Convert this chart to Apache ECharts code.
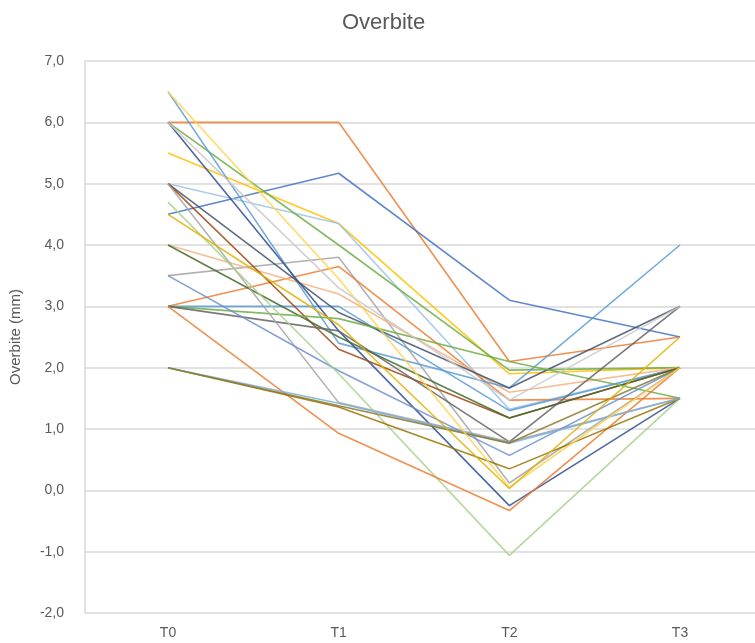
<!DOCTYPE html>
<html>
<head>
<meta charset="utf-8">
<script src="https://cdn.jsdelivr.net/npm/echarts@6/dist/echarts.min.js"></script>
<style>html,body{margin:0;padding:0;background:#fff;}#c{width:755px;height:643px;}</style>
</head>
<body>
<div id="c"></div>
<script>
const categories = ['T0', 'T1', 'T2', 'T3'];
const yTicks = [-2, -1, 0, 1, 2, 3, 4, 5, 6, 7];

const s01 = [6.0, 6.0, 2.1, 2.5];
const s02 = [4.5, 5.17, 3.1, 2.5];
const s03 = [5.5, 4.35, 1.9, 2.0];
const s04 = [5.0, 4.35, 1.32, 2.0];
const s05 = [6.0, 4.0, 1.96, 2.0];
const s06 = [3.5, 3.8, 0.12, 2.0];
const s07 = [3.0, 3.65, 1.47, 1.5];
const s08 = [4.0, 3.2, 1.6, 2.0];
const s09 = [3.0, 3.0, 1.3, 2.0];
const s10 = [6.5, 2.4, 1.67, 4.0];
const s11 = [6.0, 2.6, -0.25, 1.5];
const s12 = [5.0, 2.9, 1.67, 3.0];
const s13 = [5.0, 2.3, 1.18, 2.0];
const s14 = [4.0, 2.5, 1.18, 2.0];
const s15 = [3.0, 2.8, 2.1, 1.5];
const s16 = [3.0, 2.6, 0.79, 3.0];
const s17 = [5.0, 1.43, 0.79, 1.5];
const s18 = [3.5, 1.95, 0.57, 2.0];
const s19 = [4.7, 1.9, -1.06, 1.5];
const s20 = [3.0, 0.93, -0.33, 2.0];
const s21 = [2.0, 1.36, 0.35, 1.5];
const s22 = [2.0, 1.42, 0.77, 1.5];
const s23 = [2.0, 1.38, 0.77, 2.0];
const s24 = [6.5, 3.45, 0.05, 2.0];
const s25 = [4.5, 2.7, 0.03, 2.5];
const s26 = [6.0, 3.3, 1.47, 3.0];

const seriesData = [s01,s02,s03,s04,s05,s06,s07,s08,s09,s10,s11,s12,s13,s14,s15,s16,s17,s18,s19,s20,s21,s22,s23,s24,s25,s26];
const colors = ['#ED7D31','#4472C4','#FFC000','#9DC3E6','#70AD47','#A5A5A5','#ED7D31','#F4B183','#5B9BD5','#5B9BD5',
                '#2F4F8F','#44546A','#9E480E','#43682B','#70AD47','#636363','#A5A5A5','#6F8FD0','#A9D18E','#ED7D31',
                '#997300','#7CAFDD','#8B7A2A','#FFD34D','#E0B000','#C9C9C9'];

const chart = echarts.init(document.getElementById('c'));
const fontFam = '"Liberation Sans", "DejaVu Sans", sans-serif';
const yMin = yTicks[0], yMax = yTicks[yTicks.length - 1];
chart.setOption({
  animation: false,
  backgroundColor: '#ffffff',
  title: {
    text: 'Overbite', left: 337, top: 7,
    textStyle: { fontFamily: fontFam, fontSize: 22, fontWeight: 'normal', color: '#595959' }
  },
  grid: [
    { left: 83, right: 0, top: 61, height: 552 },
    { left: 168, width: 512, top: 61, height: 552 }
  ],
  xAxis: [
    { gridIndex: 0, type: 'value', min: 0, max: 1, show: false },
    {
      gridIndex: 1, type: 'category', data: categories, boundaryGap: false,
      axisLine: { show: false }, axisTick: { show: false },
      axisLabel: { fontFamily: fontFam, fontSize: 14, color: '#595959', margin: 13 },
      splitLine: { show: false }
    }
  ],
  yAxis: [
    {
      gridIndex: 0, type: 'value', min: yMin, max: yMax, interval: 1,
      name: 'Overbite (mm)', nameLocation: 'middle', nameGap: 62, nameRotate: 90,
      nameTextStyle: { fontFamily: fontFam, fontSize: 15, color: '#595959' },
      axisLine: { show: true, lineStyle: { color: '#D9D9D9', width: 1.5 } },
      axisTick: { show: false },
      axisLabel: { fontFamily: fontFam, fontSize: 14, color: '#595959', margin: 21,
        formatter: v => v.toFixed(1).replace('.', ',') },
      splitLine: { lineStyle: { color: '#D9D9D9', width: 1.5 } }
    },
    { gridIndex: 1, type: 'value', min: yMin, max: yMax, interval: 1, show: false, splitLine: { show: false } }
  ],
  series: seriesData.map((d, i) => ({
    type: 'line', xAxisIndex: 1, yAxisIndex: 1, data: d, symbol: 'none', smooth: false,
    lineStyle: { color: colors[i], width: 1.6, opacity: 0.85 },
    z: 2
  }))
});
</script>
</body>
</html>
